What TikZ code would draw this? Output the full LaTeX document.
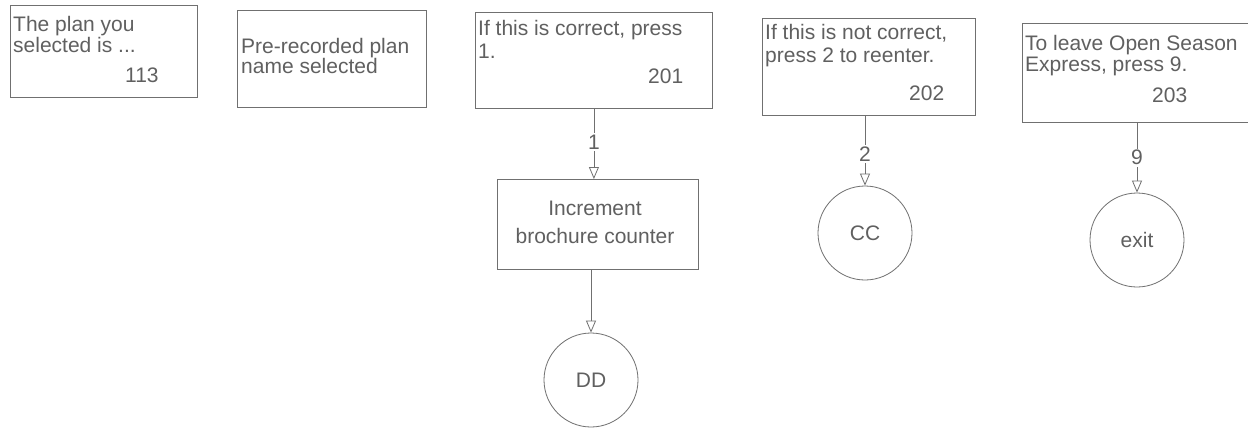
\documentclass[tikz,border=0pt]{standalone}
\usepackage{fontspec}
\setmainfont{Liberation Sans}
\usetikzlibrary{arrows.meta}
\definecolor{ink}{HTML}{606060}
\definecolor{edge}{HTML}{707070}
\begin{document}
\begin{tikzpicture}[x=1pt,y=-1pt,
  box/.style={draw=edge,line width=0.8pt,rectangle,inner sep=0pt,anchor=north west},
  txt/.style={inner sep=0pt,anchor=base west,text=ink,font=\fontsize{21}{21}\selectfont},
  ctxt/.style={inner sep=0pt,anchor=base,text=ink,font=\fontsize{21}{21}\selectfont},
  circ/.style={draw=edge,line width=0.8pt,circle,minimum size=94pt,inner sep=0pt,text=ink,font=\fontsize{21}{21}\selectfont},
  conn/.style={draw=edge,line width=0.8pt,-{Triangle[open,length=12pt,width=10pt]}},
  lbl/.style={fill=white,inner sep=1.5pt,text=ink,font=\fontsize{21}{21}\selectfont}
]
\clip (0,0) rectangle (1248,431);
\fill[white] (0,0) rectangle (1248,431);

% box 113
\node[box,minimum width=187pt,minimum height=92pt] (b113) at (10,5) {};
\node[txt] (t113a) at (13,31) {The plan you};
\node[txt] (t113b) at (13,52) {selected is ...};
\node[txt] (n113) at (125,82) {113};

% pre-recorded box
\node[box,minimum width=189pt,minimum height=97pt] (bpre) at (237,10) {};
\node[txt] (tpa) at (241,53) {Pre-recorded plan};
\node[txt] (tpb) at (241,73) {name selected};

% box 201
\node[box,minimum width=237pt,minimum height=96pt] (b201) at (475,12) {};
\node[txt] (t201a) at (478,35) {If this is correct, press};
\node[txt] (t201b) at (478,58) {1.};
\node[txt] (n201) at (648,83) {201};

% box 202
\node[box,minimum width=213pt,minimum height=97pt] (b202) at (762,18) {};
\node[txt] (t202a) at (765,39) {If this is not correct,};
\node[txt] (t202b) at (765,62) {press 2 to reenter.};
\node[txt] (n202) at (909,100) {202};

% box 203
\node[box,minimum width=240pt,minimum height=99pt] (b203) at (1022,23) {};
\node[txt] (t203a) at (1025,50) {To leave Open Season};
\node[txt] (t203b) at (1025,71) {Express, press 9.};
\node[txt] (n203) at (1152,102) {203};

% increment box
\node[box,minimum width=201pt,minimum height=90pt] (inc) at (497,179) {};
\node[ctxt] (tia) at (595,215) {Increment};
\node[ctxt] (tib) at (595,243) {brochure counter};

% circles
\node[circ] (dd) at (591,380) {DD};
\node[circ] (cc) at (865,233) {CC};
\node[circ] (ex) at (1137,240) {exit};

% connectors
\draw[conn] (b201.south) -- node[lbl,pos=0.47] (l1) {1} (b201.south |- inc.north);
\draw[conn] (inc.south -| dd.north) -- (dd.north);
\draw[conn] (b202.south -| cc.north) -- node[lbl,pos=0.55] (l2) {2} (cc.north);
\draw[conn] (b203.south -| ex.north) -- node[lbl,pos=0.5] (l9) {9} (ex.north);
\end{tikzpicture}
\end{document}
